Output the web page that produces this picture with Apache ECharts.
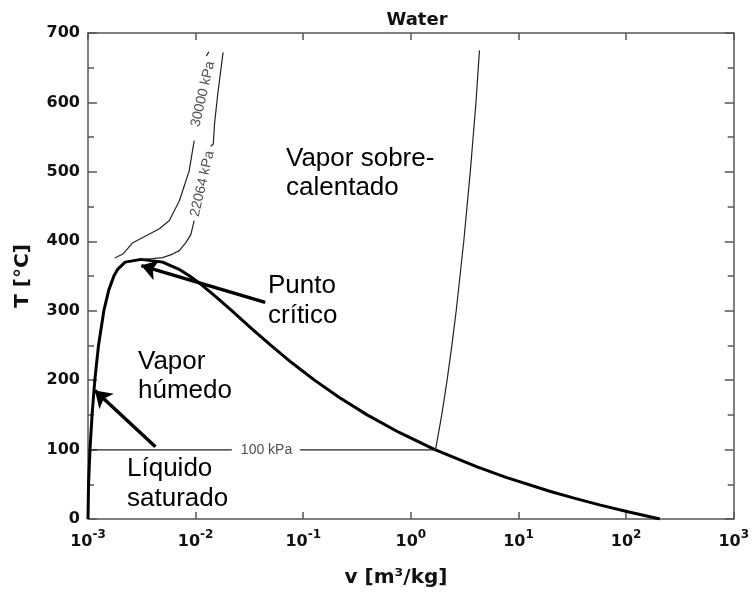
<!DOCTYPE html>
<html>
<head>
<meta charset="utf-8">
<title>Water T-v</title>
<script src="https://cdn.jsdelivr.net/npm/echarts@6/dist/echarts.min.js"></script>
<style>
  html, body { margin: 0; padding: 0; background: #fff; }
  #chart { width: 752px; height: 593px; }
</style>
</head>
<body>
<div id="chart"></div>
<script>
// saturation dome: liquid side (T rising), vapour side (T falling)
var liqT = [0, 50, 100, 150, 200, 250, 300, 330, 350, 360, 370, 373.95];
var liqV = [0.001000, 0.001012, 0.001043, 0.001091, 0.001157, 0.001252, 0.001404, 0.001561, 0.001740, 0.001895, 0.002213, 0.003106];
var vapT = [373.95, 370, 360, 350, 340, 320, 300, 275, 250, 225, 200, 175, 150, 125, 100, 75, 60, 40, 30, 20, 10, 0.01];
var vapV = [0.003106, 0.004931, 0.006950, 0.008806, 0.01080, 0.01548, 0.02165, 0.03276, 0.05009, 0.07840, 0.1272, 0.2166, 0.3925, 0.7706, 1.672, 4.131, 7.667, 19.52, 32.88, 57.76, 106.3, 206.0];

// isobars ('-' breaks the line where the label sits)
var p100T = [99.61, 99.61, '-', 99.61, 99.61, 150, 200, 250, 300, 400, 500, 600, 675];
var p100V = [0.001043, 0.0217, '-', 0.0937, 1.694, 1.937, 2.172, 2.406, 2.639, 3.103, 3.566, 4.028, 4.34];
var p22064T = [373.95, 375, 376.5, 381.6, 386.5, 398, 410, 429.6, '-', 537, 540, 570, 610, 672];
var p22064V = [0.003106, 0.0040, 0.00494, 0.00611, 0.00705, 0.00812, 0.00904, 0.00969, '-', 0.0138, 0.0146, 0.0150, 0.0160, 0.0180];
var p30000T = [376, 381.6, 398, 408, 418, 430, 458, 501, 545, '-', 667, 673];
var p30000V = [0.00177, 0.00211, 0.00261, 0.00347, 0.00461, 0.0057, 0.00705, 0.0087, 0.0097, '-', 0.0126, 0.0133];

// isobar labels [v, T, text, angle]
var isoLabels = [
  [0.0456, 99.61, '100 kPa', 0],
  [0.01156, 483, '22064 kPa', 77],
  [0.01172, 612, '30000 kPa', 77]
];

// arrows: tail -> head in data coordinates
var arrows = [
  [[0.0443, 312], [0.00313, 365]],
  [[0.00423, 104], [0.00116, 185]]
];

function pairs(vs, ts) {
  return vs.map(function (v, i) { return v === '-' ? ['-', '-'] : [v, ts[i]]; });
}

var dome = pairs(liqV, liqT).concat(pairs(vapV, vapT).slice(1));

var chart = echarts.init(document.getElementById('chart'));
var bold = { fontFamily: 'DejaVu Sans', fontWeight: 'bold', color: '#111' };
var axisCol = '#555';

function xAx(pos, labels) {
  return {
    type: 'log', logBase: 10, min: 0.001, max: 1000, splitNumber: 6, position: pos,
    axisLine: { show: true, onZero: false, lineStyle: { color: axisCol, width: 1.5 } },
    axisTick: { show: true, inside: true, length: 7, lineStyle: { color: axisCol, width: 1.5 } },
    minorTick: { show: false },
    splitLine: { show: false },
    axisLabel: {
      show: labels, margin: 10,
      formatter: function (val) { return '{b|10}{s|' + Math.round(Math.log10(val)) + '}'; },
      rich: {
        b: { fontFamily: 'DejaVu Sans', fontWeight: 'bold', fontSize: 16, color: '#111', verticalAlign: 'bottom', lineHeight: 21 },
        s: { fontFamily: 'DejaVu Sans', fontWeight: 'bold', fontSize: 12, color: '#111', verticalAlign: 'top', lineHeight: 21 }
      }
    }
  };
}
function yAx(pos, labels) {
  return {
    type: 'value', min: 0, max: 700, interval: 100, position: pos,
    axisLine: { show: true, onZero: false, lineStyle: { color: axisCol, width: 1.5 } },
    axisTick: { show: true, inside: true, length: 9, lineStyle: { color: axisCol, width: 1.5 } },
    minorTick: { show: true, splitNumber: 2, length: 6, lineStyle: { color: axisCol, width: 1.5 } },
    splitLine: { show: false },
    axisLabel: Object.assign({ show: labels, margin: 8, fontSize: 16 }, bold)
  };
}

var series = [
  { type: 'line', data: dome, showSymbol: false, lineStyle: { color: '#000', width: 3 } },
  { type: 'line', data: pairs(p100V, p100T), showSymbol: false, connectNulls: false, lineStyle: { color: '#222', width: 1.2 } },
  { type: 'line', data: pairs(p22064V, p22064T), showSymbol: false, connectNulls: false, lineStyle: { color: '#222', width: 1.2 } },
  { type: 'line', data: pairs(p30000V, p30000T), showSymbol: false, connectNulls: false, lineStyle: { color: '#222', width: 1.2 } },
  {
    type: 'lines', coordinateSystem: 'cartesian2d', symbol: ['none', 'arrow'], symbolSize: 16,
    lineStyle: { color: '#000', width: 3.5, opacity: 1 },
    data: arrows.map(function (a) { return { coords: a }; })
  }
];
isoLabels.forEach(function (l) {
  series.push({
    type: 'scatter', symbolSize: 0, silent: true,
    data: [[l[0], l[1]]],
    label: { show: true, position: 'inside', rotate: l[3], formatter: l[2],
      fontFamily: 'Liberation Sans', fontSize: 14, color: '#222' }
  });
});

var ann = [
  ['Vapor sobre-', 286, 159], ['calentado', 286, 188],
  ['Punto', 268, 286], ['crítico', 268, 316],
  ['Vapor', 138, 362], ['húmedo', 138, 391],
  ['Líquido', 127, 469], ['saturado', 127, 499]
];
var graphics = ann.map(function (a) {
  return { type: 'text', x: a[1], y: a[2], style: { text: a[0], font: '26px "Liberation Sans"', fill: '#000', verticalAlign: 'middle' } };
});
graphics.push({ type: 'text', x: 417, y: 20, style: { text: 'Water', font: 'bold 18px "DejaVu Sans"', fill: '#111', align: 'center', verticalAlign: 'middle' } });
graphics.push({ type: 'text', x: 396, y: 578, style: { text: 'v [m³/kg]', font: 'bold 20px "DejaVu Sans"', fill: '#111', align: 'center', verticalAlign: 'middle' } });
graphics.push({ type: 'text', x: 23, y: 276, rotation: Math.PI / 2, style: { text: 'T [°C]', font: 'bold 20px "DejaVu Sans"', fill: '#111', align: 'center', verticalAlign: 'middle' } });

chart.setOption({
  animation: false,
  backgroundColor: '#fff',
  grid: { left: 88, right: 13, top: 33, bottom: 74 },
  xAxis: [xAx('bottom', true), xAx('top', false)],
  yAxis: [yAx('left', true), yAx('right', false)],
  series: series,
  graphic: graphics
});
</script>
</body>
</html>
